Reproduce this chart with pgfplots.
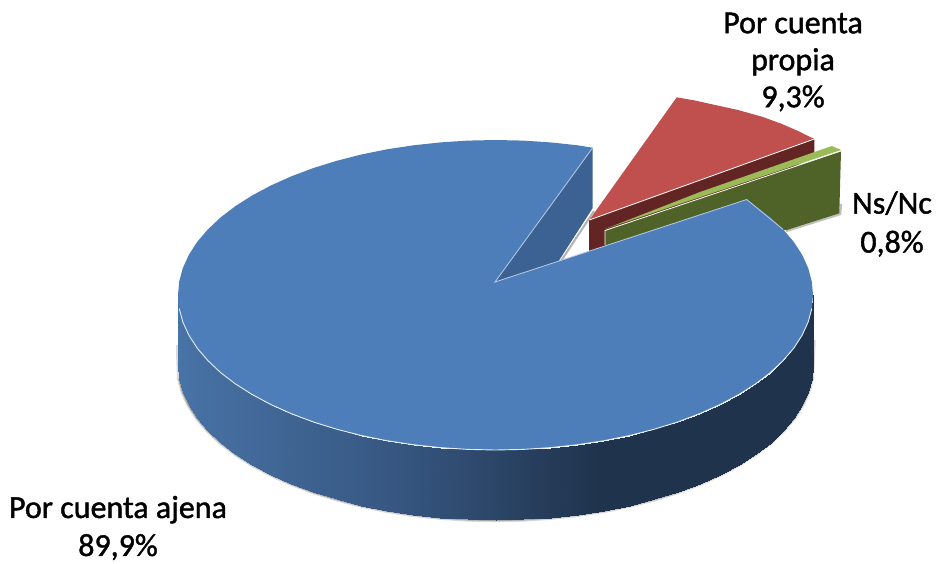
\documentclass[border=0pt]{standalone}
\usepackage{pgfplots}
\pgfplotsset{compat=1.18}
\usepackage{pgfplotstable}
\usepackage{fontspec}
\setmainfont{Carlito}
\newfontfamily\lab{Carlito}[FakeBold=1.3]
\definecolor{mainblue}{RGB}{78,126,186}
\definecolor{notchblue}{RGB}{59,98,146}
\definecolor{redtop}{RGB}{192,80,77}
\definecolor{redwall}{RGB}{99,37,35}
\definecolor{greentop}{RGB}{155,187,89}
\definecolor{greenwall}{RGB}{79,98,40}
\pgfplotstableread{
x y m
178.0 295.0 178
179.2 308.5 179
182.8 321.9 183
188.8 335.1 189
197.1 348.0 197
207.8 360.5 208
220.5 372.5 220
235.4 383.9 235
252.3 394.6 252
271.0 404.6 271
291.4 413.7 291
313.4 422.0 313
336.7 429.2 337
361.3 435.5 361
386.9 440.7 387
413.3 444.7 413
440.4 447.6 440
467.8 449.4 468
495.5 450.0 495
523.2 449.4 523
550.6 447.6 551
577.7 444.7 578
604.1 440.7 604
629.7 435.5 630
654.3 429.2 654
677.6 422.0 678
699.6 413.7 700
720.0 404.6 720
738.7 394.6 739
755.6 383.9 756
770.5 372.5 770
783.2 360.5 783
793.9 348.0 794
802.2 335.1 802
808.2 321.9 808
811.8 308.5 812
813.0 295.0 813
178.0 365.0 178
179.2 378.5 179
182.8 391.9 183
188.8 405.1 189
197.1 418.0 197
207.8 430.5 208
220.5 442.5 220
235.4 453.9 235
252.3 464.6 252
271.0 474.6 271
291.4 483.7 291
313.4 492.0 313
336.7 499.2 337
361.3 505.5 361
386.9 510.7 387
413.3 514.7 413
440.4 517.6 440
467.8 519.4 468
495.5 520.0 495
523.2 519.4 523
550.6 517.6 551
577.7 514.7 578
604.1 510.7 604
629.7 505.5 630
654.3 499.2 654
677.6 492.0 678
699.6 483.7 700
720.0 474.6 720
738.7 464.6 739
755.6 453.9 756
770.5 442.5 770
783.2 430.5 783
793.9 418.0 794
802.2 405.1 802
808.2 391.9 808
811.8 378.5 812
813.0 365.0 813
}\sidetable
\begin{document}
\begin{tikzpicture}[x=1pt,y=1pt]
\path[use as bounding box] (0,0) rectangle (936,563);
\begin{axis}[
  at={(0,0)},anchor=south west,
  scale only axis,width=936pt,height=563pt,
  xmin=0,xmax=936,ymin=0,ymax=563,y dir=reverse,
  hide axis,clip=false,
  colormap={side}{rgb255(0cm)=(72,115,166); rgb255(2.22cm)=(54,86,128); rgb255(4.22cm)=(31,51,76); rgb255(6.35cm)=(31,51,76)},
  point meta min=178,point meta max=813,
]
% shadows
\addplot[draw=gray!30,line width=4.5pt,forget plot] coordinates {(178,345) (179.2,378.5) (182.8,391.9) (188.8,405.1) (197.1,418) (207.8,430.5) (220.5,442.5) (235.4,453.9) (252.3,464.6) (271,474.6) (291.4,483.7) (313.4,492) (336.7,499.2) (361.3,505.5) (386.9,510.7) (413.3,514.7) (440.4,517.6) (467.8,519.4) (495.5,520) (523.2,519.4) (550.6,517.6) (577.7,514.7) (604.1,510.7) (629.7,505.5) (654.3,499.2) (677.6,492) (699.6,483.7) (720,474.6) (738.7,464.6) (755.6,453.9) (770.5,442.5) (783.2,430.5) (793.9,418) (802.2,405.1) (808.2,391.9) (811.8,378.5) (813.5,340)};
\addplot[draw=gray!70,line width=2.2pt,forget plot] coordinates {(179.2,378.5) (182.8,391.9) (188.8,405.1) (197.1,418) (207.8,430.5) (220.5,442.5) (235.4,453.9) (252.3,464.6) (271,474.6) (291.4,483.7) (313.4,492) (336.7,499.2) (361.3,505.5) (386.9,510.7) (413.3,514.7) (440.4,517.6) (467.8,519.4) (495.5,520) (523.2,519.4) (550.6,517.6) (577.7,514.7) (604.1,510.7) (629.7,505.5) (654.3,499.2) (677.6,492) (699.6,483.7) (720,474.6) (738.7,464.6) (755.6,453.9) (770.5,442.5) (783.2,430.5) (793.9,418) (802.2,405.1) (808.2,391.9) (811.8,378.5)};
\addplot[draw=gray!60,line width=2pt,forget plot] coordinates {(594,211) (561,261)};
\addplot[draw=gray!50,line width=2.5pt,forget plot] coordinates {(786,231) (840,214) (841,204)};
% red slice
\addplot[fill=redwall,draw=none,forget plot] coordinates {(589,220) (814.3,139) (814.3,157) (640,240) (589,290)} --cycle;
\addplot[fill=redtop,draw=none,forget plot] coordinates {(589.3,220) (676.7,97.3) (695,100.5) (713,104.5) (738,110) (763,117) (782,124) (798,131) (814.3,139)} --cycle;
\addplot[draw=white,line width=0.8pt,forget plot] coordinates {(589.3,220) (814.3,139)};
% green slice
\addplot[fill=greenwall,draw=none,forget plot] coordinates {(605,230) (841,151) (839.3,213.3) (786.7,230) (750,230) (605,262)} --cycle;
\addplot[fill=greentop,draw=none,forget plot] coordinates {(605,229) (700,192) (831.7,146) (841,150)} --cycle;
\addplot[draw=white,line width=0.8pt,forget plot] coordinates {(605,245) (605,230.5) (841,151)};
% notch wall
\addplot[fill=notchblue,draw=none,forget plot] coordinates {(495,282) (592.7,147.7) (592.7,208) (558,262)} --cycle;
% main side
\addplot[surf,shader=interp,mesh/rows=2,mesh/cols=37,point meta=\thisrow{m},forget plot] table[x=x,y=y] {\sidetable};
% main top
\addplot[fill=mainblue,draw=none,forget plot] coordinates {(495,282) (592.7,147.7) (577.7,145.3) (550.6,142.4) (523.2,140.6) (495.5,140) (467.8,140.6) (440.4,142.4) (413.3,145.3) (386.9,149.3) (361.3,154.5) (336.7,160.8) (313.4,168) (291.4,176.3) (271,185.4) (252.3,195.4) (235.4,206.1) (220.5,217.5) (207.8,229.5) (197.1,242) (188.8,254.9) (182.8,268.1) (179.2,281.5) (178,295) (179.2,308.5) (182.8,321.9) (188.8,335.1) (197.1,348) (207.8,360.5) (220.5,372.5) (235.4,383.9) (252.3,394.6) (271,404.6) (291.4,413.7) (313.4,422) (336.7,429.2) (361.3,435.5) (386.9,440.7) (413.3,444.7) (440.4,447.6) (467.8,449.4) (495.5,450) (523.2,449.4) (550.6,447.6) (577.7,444.7) (604.1,440.7) (629.7,435.5) (654.3,429.2) (677.6,422) (699.6,413.7) (720,404.6) (738.7,394.6) (755.6,383.9) (770.5,372.5) (783.2,360.5) (793.9,348) (802.2,335.1) (808.2,321.9) (811.8,308.5) (813,295) (811.8,281.5) (808.2,268.1) (802.2,254.9) (793.9,242) (783.2,229.5) (770.5,217.5) (755.6,206.1) (746.7,199.5)} --cycle;
% rim lines
\addplot[draw=white!85!mainblue,line width=0.9pt,forget plot] coordinates {(179.2,308.5) (182.8,321.9) (188.8,335.1) (197.1,348) (207.8,360.5) (220.5,372.5) (235.4,383.9) (252.3,394.6) (271,404.6) (291.4,413.7) (313.4,422) (336.7,429.2) (361.3,435.5) (386.9,440.7) (413.3,444.7) (440.4,447.6) (467.8,449.4) (495.5,450) (523.2,449.4) (550.6,447.6) (577.7,444.7) (604.1,440.7) (629.7,435.5) (654.3,429.2) (677.6,422) (699.6,413.7) (720,404.6) (738.7,394.6) (755.6,383.9) (770.5,372.5) (783.2,360.5) (793.9,348) (802.2,335.1) (808.2,321.9) (811.8,308.5)};
\addplot[draw=white!60!mainblue,line width=0.8pt,forget plot] coordinates {(592.7,147.7) (495,282) (746.7,199.5) (783.2,229.5)};
% labels
\node[align=center,font=\fontsize{32}{37}\selectfont\lab,inner sep=0pt] at (axis cs:793,62) {Por cuenta\\propia\\9,3\%};
\node[align=center,font=\fontsize{32}{39}\selectfont\lab,inner sep=0pt] at (axis cs:892,224) {Ns/Nc\\0,8\%};
\node[align=center,font=\fontsize{32}{38}\selectfont\lab,inner sep=0pt] at (axis cs:118,528) {Por cuenta ajena\\89,9\%};
\end{axis}
\end{tikzpicture}
\end{document}
